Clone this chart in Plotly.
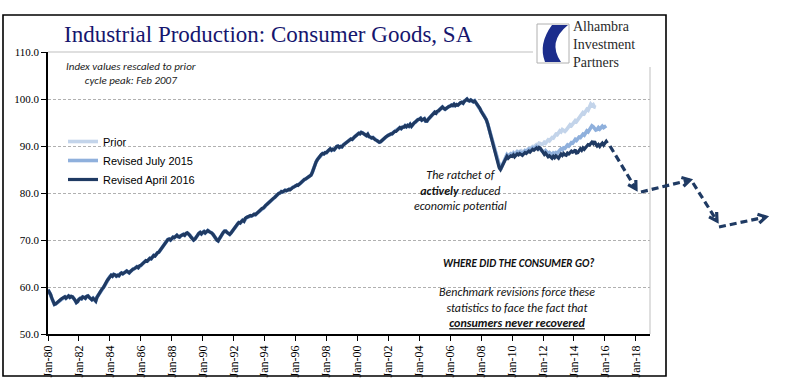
import math
import pandas as pd
import plotly.graph_objects as go

# ---------------- data (monthly readings of the index, Feb 2007 = 100) ----------------
series_names = ["Prior", "Revised July 2015", "Revised April 2016"]

# shared history Jan 1980 - Jun 2009 (all vintages coincide here)
common_history = [
    59.4, 59.0, 58.4, 57.6, 56.8, 56.3, 56.4, 56.6, 56.9, 57.2, 57.4, 57.6,  # 1980
    57.7, 57.9, 57.6, 58.0, 58.1, 57.8, 58.0, 57.9, 57.6, 57.2, 56.7, 56.9,  # 1981
    57.4, 57.6, 57.5, 57.9, 57.8, 57.6, 58.0, 58.1, 57.8, 57.5, 57.3, 57.6,  # 1982
    57.2, 57.0, 57.8, 58.3, 58.8, 59.1, 59.6, 59.9, 60.3, 60.9, 61.4, 61.8,  # 1983
    62.2, 62.5, 62.3, 62.7, 62.6, 62.3, 62.5, 62.4, 62.8, 63.0, 62.8, 63.1,  # 1984
    63.2, 63.4, 63.1, 63.0, 63.3, 63.6, 63.8, 63.9, 64.2, 64.3, 64.1, 64.5,  # 1985
    64.6, 64.9, 65.2, 65.3, 65.6, 65.5, 65.8, 66.1, 66.0, 66.4, 66.7, 66.6,  # 1986
    67.0, 67.3, 67.4, 67.8, 68.1, 68.5, 68.9, 69.3, 69.7, 70.1, 70.2, 70.0,  # 1987
    70.3, 70.6, 70.5, 70.8, 71.0, 70.7, 70.6, 70.9, 71.1, 71.2, 71.0, 71.4,  # 1988
    71.5, 71.3, 71.0, 70.6, 70.3, 70.0, 70.2, 70.7, 71.1, 71.4, 71.6, 71.3,  # 1989
    71.6, 71.8, 71.5, 71.9, 72.0, 71.8, 71.7, 71.5, 71.2, 70.9, 70.4, 70.0,  # 1990
    69.8, 70.3, 70.8, 71.3, 71.6, 71.9, 71.9, 71.6, 71.4, 71.2, 71.5, 71.9,  # 1991
    72.4, 72.8, 73.1, 73.4, 73.7, 73.6, 73.9, 74.2, 74.0, 74.6, 74.8, 74.9,  # 1992
    75.0, 75.2, 75.1, 75.3, 75.5, 75.4, 75.7, 75.9, 76.1, 76.4, 76.7, 76.8,  # 1993
    77.0, 77.4, 77.6, 77.9, 78.2, 78.4, 78.6, 78.9, 79.1, 79.4, 79.7, 79.9,  # 1994
    80.0, 80.3, 80.2, 80.4, 80.6, 80.5, 80.6, 80.8, 80.7, 81.0, 81.2, 81.3,  # 1995
    81.5, 81.7, 81.6, 81.9, 82.1, 82.4, 82.7, 82.9, 83.0, 83.2, 83.5, 83.6,  # 1996
    83.8, 84.4, 85.2, 86.0, 86.6, 87.1, 87.5, 87.8, 88.2, 88.4, 88.3, 88.6,  # 1997
    88.6, 88.9, 89.2, 89.4, 89.1, 89.3, 89.2, 89.6, 89.9, 90.0, 89.7, 89.9,  # 1998
    89.8, 90.2, 90.4, 90.6, 90.9, 91.1, 91.3, 91.5, 91.4, 91.8, 92.0, 92.2,  # 1999
    92.4, 92.7, 92.6, 92.9, 92.8, 92.6, 92.4, 92.2, 92.5, 92.0, 91.9, 91.7,  # 2000
    91.8, 91.5, 91.3, 91.2, 91.0, 90.8, 90.9, 91.2, 91.4, 91.6, 91.9, 92.1,  # 2001
    92.3, 92.4, 92.6, 92.6, 92.9, 93.1, 93.1, 93.4, 93.6, 93.9, 93.7, 94.0,  # 2002
    94.0, 94.3, 94.1, 94.4, 94.2, 94.6, 94.2, 94.7, 94.9, 95.1, 95.4, 95.6,  # 2003
    95.7, 95.9, 95.5, 95.6, 95.8, 95.3, 95.3, 95.7, 96.0, 96.2, 96.6, 96.9,  # 2004
    97.2, 97.0, 97.4, 97.5, 97.8, 98.1, 98.3, 98.0, 97.8, 98.0, 98.3, 98.4,  # 2005
    98.5, 98.7, 98.6, 98.9, 98.6, 98.8, 98.7, 99.0, 99.2, 99.3, 99.1, 99.5,  # 2006
    99.8, 100.0, 99.7, 99.6, 99.8, 99.5, 99.4, 99.6, 99.2, 98.8, 98.5, 98.0,  # 2007
    97.4, 97.0, 96.6, 96.2, 95.6, 94.8, 93.8, 93.0, 92.0, 91.0, 90.0, 88.8,  # 2008
    87.4, 86.3, 85.4, 85.0, 85.6, 86.2,                                      # 2009 H1
]

prior_tail = [
    87.0, 87.6, 88.2, 87.9, 88.1, 88.4,                                      # 2009 H2
    88.2, 88.6, 88.3, 88.5, 88.9, 88.7, 88.9, 89.0, 88.8, 88.6, 89.0, 88.9,  # 2010
    89.2, 89.5, 89.4, 89.6, 89.9, 89.8, 90.0, 90.3, 90.2, 90.6, 90.5, 90.3,  # 2011
    90.4, 90.8, 90.6, 91.0, 91.3, 91.1, 91.5, 91.8, 91.7, 92.2, 92.5, 92.4,  # 2012
    92.8, 93.2, 93.0, 93.5, 93.3, 93.1, 93.4, 93.9, 94.1, 94.5, 94.3, 94.7,  # 2013
    95.0, 95.4, 95.2, 95.6, 96.1, 96.4, 96.8, 97.1, 96.9, 97.4, 97.8, 97.6,  # 2014
    98.4, 98.9, 98.6, 98.8, 98.3, 98.2,                                      # 2015 H1
]

july2015_tail = [
    86.9, 87.5, 88.1, 87.8, 88.0, 88.3,                                      # 2009 H2
    88.1, 88.4, 88.0, 88.4, 88.7, 88.5, 88.7, 88.6, 88.4, 88.7, 89.0, 88.8,  # 2010
    89.0, 89.3, 89.1, 89.3, 89.6, 89.4, 89.7, 89.9, 89.6, 89.5, 89.3, 89.0,  # 2011
    88.9, 88.7, 89.0, 88.6, 88.4, 88.6, 88.3, 88.1, 88.5, 88.3, 88.6, 88.5,  # 2012
    88.8, 89.1, 89.4, 89.2, 89.6, 89.5, 89.9, 90.2, 90.0, 90.4, 90.7, 90.6,  # 2013
    91.0, 91.4, 91.2, 91.5, 91.9, 91.8, 92.2, 92.5, 92.3, 92.8, 93.2, 93.0,  # 2014
    93.6, 93.9, 94.3, 94.1, 93.7, 93.4, 93.5, 93.9, 93.6, 93.8, 94.2, 93.9,  # 2015
    94.0, 94.3,                                                              # 2016
]

april2016_tail = [
    86.6, 87.2, 87.8, 87.4, 87.6, 87.9,                                      # 2009 H2
    87.8, 88.1, 87.7, 88.0, 88.3, 88.1, 88.4, 88.2, 88.0, 88.3, 88.6, 88.4,  # 2010
    88.6, 88.9, 88.7, 89.0, 89.3, 89.1, 89.4, 89.6, 89.3, 89.7, 89.5, 89.0,  # 2011
    88.4, 88.2, 88.5, 88.0, 87.7, 87.9, 87.6, 87.4, 87.8, 87.5, 87.9, 87.6,  # 2012
    87.4, 87.9, 88.3, 88.0, 88.4, 88.1, 88.0, 88.5, 88.3, 88.6, 88.9, 88.7,  # 2013
    88.8, 89.2, 88.5, 88.6, 88.9, 89.4, 89.1, 89.6, 89.3, 89.6, 89.9, 90.3,  # 2014
    90.2, 90.6, 90.8, 90.5, 91.0, 90.4, 90.0, 90.3, 89.9, 90.3, 90.6, 90.2,  # 2015
    90.7, 91.0, 90.6,                                                        # 2016
]

y_ticks = [50, 60, 70, 80, 90, 100, 110]

prior = common_history + prior_tail
july2015 = common_history + july2015_tail
april2016 = common_history + april2016_tail

def months(n):
    return pd.date_range("1980-01-01", periods=n, freq="MS")

colors = ["#c3d4ea", "#8fb0dc", "#1f3a63"]
widths = [3.6, 3.6, 3.2]

fig = go.Figure()
for name, vals, c, w in zip(series_names, [prior, july2015, april2016], colors, widths):
    fig.add_trace(go.Scatter(x=months(len(vals)), y=vals, mode="lines", name=name,
                             line=dict(color=c, width=w)))

# ---------------- geometry helpers (pixel -> paper) ----------------
W, H = 808, 392
L, R, T, B = 48, 650, 52, 334
def px(xp):
    return (xp - L) / (R - L)
def py(yp):
    return (B - yp) / (B - T)

shapes = []
annotations = []

# plot-area top/right borders (grey)
shapes.append(dict(type="line", xref="paper", yref="paper", x0=0, x1=1, y0=1, y1=1,
                   line=dict(color="#bfbfbf", width=1)))
shapes.append(dict(type="line", xref="paper", yref="paper", x0=1, x1=1, y0=0, y1=1,
                   line=dict(color="#bfbfbf", width=1)))

# outer frame
shapes.append(dict(type="rect", xref="paper", yref="paper", x0=px(3), x1=px(666), y0=py(376), y1=py(15),
                   line=dict(color="black", width=1.6), layer="above"))

# logo background + icon
shapes.append(dict(type="rect", xref="paper", yref="paper", x0=px(533), x1=px(662), y0=py(67), y1=py(19),
                   fillcolor="white", line=dict(width=0), layer="above"))
shapes.append(dict(type="rect", xref="paper", yref="paper", x0=px(537), x1=px(569), y0=py(63), y1=py(24),
                   fillcolor="white", line=dict(color="#b0b0b0", width=1), layer="above"))
def pth(pts):
    s = ""
    for cmd, coords in pts:
        s += cmd + " " + " ".join(f"{px(a):.5f},{py(b):.5f}" for a, b in coords) + " "
    return s + "Z"
swoosh = pth([("M", [(552, 25)]), ("L", [(568, 25)]), ("Q", [(547, 42), (561, 62)]),
              ("L", [(545, 62)]), ("Q", [(538, 44), (552, 25)])])
shapes.append(dict(type="path", xref="paper", yref="paper", path=swoosh,
                   fillcolor="#1c2d8c", line=dict(width=0), layer="above"))

annotations.append(dict(xref="paper", yref="paper", x=px(571), y=py(45), xanchor="left", yanchor="middle",
                        align="left", text="Alhambra<br>Investment<br>Partners", showarrow=False,
                        font=dict(family="Liberation Serif", size=14, color="#2a2a2a")))

# title
annotations.append(dict(xref="paper", yref="paper", x=px(62), y=py(34), xanchor="left", yanchor="middle",
                        text="Industrial Production: Consumer Goods, SA", showarrow=False,
                        font=dict(family="Liberation Serif", size=23, color="#16166e")))

sans_it = "Carlito, Lato, sans-serif"
annotations.append(dict(xref="paper", yref="paper", x=px(131), y=py(73), xanchor="center", yanchor="middle",
                        text="<i>Index values rescaled to prior<br>cycle peak: Feb 2007</i>", showarrow=False,
                        font=dict(family=sans_it, size=11, color="#222")))
annotations.append(dict(xref="paper", yref="paper", x=px(460), y=py(190), xanchor="center", yanchor="middle",
                        text="<i>The ratchet of<br><b>actively</b> reduced<br>economic potential</i>",
                        showarrow=False, font=dict(family=sans_it, size=12, color="#111")))
annotations.append(dict(xref="paper", yref="paper", x=px(518), y=py(263), xanchor="center", yanchor="middle",
                        text="<b><i>WHERE DID THE CONSUMER GO?</i></b>", showarrow=False,
                        font=dict(family=sans_it, size=11, color="#111")))
annotations.append(dict(xref="paper", yref="paper", x=px(517), y=py(307), xanchor="center", yanchor="middle",
                        text="<i>Benchmark revisions force these<br>statistics to face the fact that<br>"
                             "<b><u>consumers never recovered</u></b></i>",
                        showarrow=False, font=dict(family=sans_it, size=12, color="#111")))

# dashed projection arrows
navy = "#1f3a63"
segs = [((610, 146), (636, 189)), ((641, 192), (690, 180)),
        ((693, 183), (717, 221)), ((719, 227), (766, 217))]
for (x0, y0), (x1, y1) in segs:
    shapes.append(dict(type="line", xref="paper", yref="paper", x0=px(x0), y0=py(y0), x1=px(x1), y1=py(y1),
                       line=dict(color=navy, width=3.2, dash="7px,4px"), layer="above"))
    ang = math.atan2(y1 - y0, x1 - x0)
    hl = 9
    a1 = ang + math.radians(150)
    a2 = ang - math.radians(150)
    p1 = (x1 + hl * math.cos(a1), y1 + hl * math.sin(a1))
    p2 = (x1 + hl * math.cos(a2), y1 + hl * math.sin(a2))
    path = f"M {px(p1[0]):.5f},{py(p1[1]):.5f} L {px(x1):.5f},{py(y1):.5f} L {px(p2[0]):.5f},{py(p2[1]):.5f}"
    shapes.append(dict(type="path", xref="paper", yref="paper", path=path,
                       line=dict(color=navy, width=3.2), layer="above"))

serif = "Liberation Serif"
fig.update_layout(
    width=W, height=H,
    margin=dict(l=L, r=W - R, t=T, b=H - B, autoexpand=False),
    paper_bgcolor="white", plot_bgcolor="white",
    showlegend=True,
    legend=dict(x=px(63), y=py(127), xanchor="left", yanchor="top", bgcolor="rgba(0,0,0,0)",
                font=dict(family="Liberation Sans", size=11, color="black"),
                itemwidth=30, tracegroupgap=0),
    shapes=shapes, annotations=annotations,
    xaxis=dict(type="date", range=["1980-01-01", "2018-12-01"], tick0="1980-01-01", dtick="M24",
               tickformat="%b-%y", tickangle=-90, showgrid=False, showline=True, linecolor="black",
               linewidth=1.5, ticks="outside", ticklen=5, tickcolor="black", zeroline=False,
               tickfont=dict(family=serif, size=12, color="black")),
    yaxis=dict(range=[50, 110], tickvals=y_ticks, tickformat=".1f", showgrid=True, gridcolor="#b0b0b0",
               griddash="3px,2px", gridwidth=1, showline=True, linecolor="black", linewidth=1.5,
               ticks="outside", ticklen=5, tickcolor="black", zeroline=False,
               tickfont=dict(family=serif, size=11, color="black")),
)

fig.write_html("out.html", config={"displayModeBar": False},
               post_script="document.body.style.margin='0';")
